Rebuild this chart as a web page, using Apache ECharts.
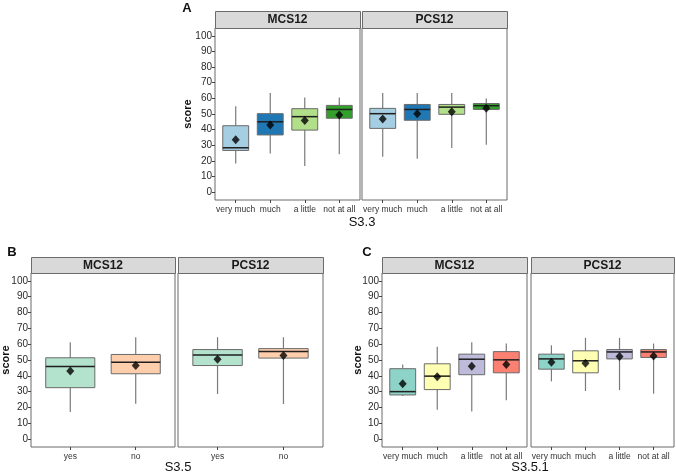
<!DOCTYPE html>
<html>
<head>
<meta charset="utf-8">
<script src="https://cdn.jsdelivr.net/npm/echarts@6/dist/echarts.min.js"></script>
<style>html,body{margin:0;padding:0;background:#fff}#c{width:676px;height:474px}</style>
</head>
<body>
<div id="c"></div>
<script>
// ---------- DATA ----------
const catsS33 = ['very much', 'much', 'a little', 'not at all'];
const catsS35 = ['yes', 'no'];
const catsS351 = ['very much', 'much', 'a little', 'not at all'];
const yTicks = [0, 10, 20, 30, 40, 50, 60, 70, 80, 90, 100];

// [lower whisker, Q1, median, Q3, upper whisker]
const A_MCS12_box = [[18.3, 26.7, 28.4, 42.5, 55.0], [24.8, 36.6, 45.0, 50.2, 63.4], [16.8, 39.7, 48.3, 53.4, 60.5], [24.2, 47.3, 52.9, 55.5, 60.5]];
const A_MCS12_mean = [33.6, 43.0, 45.8, 49.4];
const A_PCS12_box = [[22.7, 40.8, 50.2, 53.6, 63.4], [21.4, 46.0, 52.9, 56.1, 63.4], [28.2, 49.8, 54.4, 56.1, 63.4], [30.3, 52.9, 55.3, 56.7, 59.9]];
const A_PCS12_mean = [46.8, 50.2, 51.5, 53.6];

const B_MCS12_box = [[17.2, 32.5, 45.9, 51.4, 61.2], [22.4, 41.3, 48.6, 53.5, 64.4]];
const B_MCS12_mean = [43.0, 46.5];
const B_PCS12_box = [[28.5, 46.5, 53.2, 56.6, 64.4], [22.2, 51.2, 55.3, 57.2, 64.4]];
const B_PCS12_mean = [50.5, 52.8];

const C_MCS12_box = [[27.2, 27.9, 30.0, 44.5, 47.2], [18.5, 31.3, 39.8, 47.6, 58.3], [17.4, 40.7, 50.5, 53.7, 61.2], [24.5, 41.9, 50.1, 55.3, 60.4]];
const C_MCS12_mean = [35.0, 39.4, 46.1, 47.2];
const C_PCS12_box = [[36.5, 44.2, 50.7, 53.7, 59.3], [30.4, 41.9, 49.5, 55.8, 64.0], [31.0, 50.7, 55.1, 56.6, 64.0], [28.7, 51.6, 55.1, 56.6, 60.4]];
const C_PCS12_mean = [48.6, 48.0, 52.2, 52.6];

const palA = ['#A6CEE3', '#1F78B4', '#B2DF8A', '#33A02C'];
const palB = ['#B3E2CD', '#FDCDAC'];
const palC = ['#8DD3C7', '#FFFFB3', '#BEBADA', '#FB8072'];

// ---------- CHART ----------
const FONT = '"Liberation Sans", Arial, sans-serif';
const panels = [
  {pos: {left: 215, top: 28, width: 145, height: 172}, cats: catsS33, box: A_MCS12_box, mean: A_MCS12_mean, pal: palA, showY: true, strip: 'MCS12'},
  {pos: {left: 362, top: 28, width: 145, height: 172}, cats: catsS33, box: A_PCS12_box, mean: A_PCS12_mean, pal: palA, showY: false, strip: 'PCS12'},
  {pos: {left: 31, top: 273, width: 144, height: 174}, cats: catsS35, box: B_MCS12_box, mean: B_MCS12_mean, pal: palB, showY: true, strip: 'MCS12'},
  {pos: {left: 178, top: 273, width: 145, height: 174}, cats: catsS35, box: B_PCS12_box, mean: B_PCS12_mean, pal: palB, showY: false, strip: 'PCS12'},
  {pos: {left: 382, top: 273, width: 145, height: 174}, cats: catsS351, box: C_MCS12_box, mean: C_MCS12_mean, pal: palC, showY: true, strip: 'MCS12'},
  {pos: {left: 531, top: 273, width: 143, height: 174}, cats: catsS351, box: C_PCS12_box, mean: C_PCS12_mean, pal: palC, showY: false, strip: 'PCS12'}
];

const grid = [], xAxis = [], yAxis = [], series = [], graphic = [];

panels.forEach((p, i) => {
  const n = p.cats.length;
  grid.push(Object.assign({show: true, borderColor: '#6b6b6b', borderWidth: 1, backgroundColor: '#fff', containLabel: false}, p.pos));
  const xVals = p.cats.map((c, k) => k + 1);
  xAxis.push({
    type: 'value', gridIndex: i, min: 0.4, max: n + 0.6, position: 'bottom',
    axisLine: {show: false, onZero: false}, splitLine: {show: false},
    axisTick: {show: true, length: 3, customValues: xVals, lineStyle: {color: '#444'}},
    axisLabel: {show: true, customValues: xVals, margin: 5, fontSize: 8.5, color: '#333', fontFamily: FONT,
      formatter: v => p.cats[Math.round(v) - 1] || ''}
  });
  yAxis.push({
    type: 'value', gridIndex: i, min: -5, max: 105, position: 'left',
    axisLine: {show: false, onZero: false}, splitLine: {show: false},
    axisTick: {show: p.showY, length: 3, customValues: yTicks, lineStyle: {color: '#444'}},
    axisLabel: {show: p.showY, customValues: yTicks, margin: 3, fontSize: 10, color: '#2a2a2a', fontFamily: FONT}
  });
  const boxData = p.box.map((b, k) => [k + 1].concat(b));
  series.push({
    type: 'custom', xAxisIndex: i, yAxisIndex: i,
    encode: {x: 0, y: [1, 2, 3, 4, 5]},
    data: boxData,
    z: 2,
    renderItem: (params, api) => {
      const x = api.value(0);
      const pLo = api.coord([x, api.value(1)]);
      const pQ1 = api.coord([x, api.value(2)]);
      const pMed = api.coord([x, api.value(3)]);
      const pQ3 = api.coord([x, api.value(4)]);
      const pHi = api.coord([x, api.value(5)]);
      const hw = api.size([0.75, 0])[0] / 2;
      const fill = p.pal[params.dataIndex];
      return {type: 'group', children: [
        {type: 'line', shape: {x1: pLo[0], y1: pLo[1], x2: pQ1[0], y2: pQ1[1]}, style: {stroke: '#7a7a7a', lineWidth: 1.2}},
        {type: 'line', shape: {x1: pHi[0], y1: pHi[1], x2: pQ3[0], y2: pQ3[1]}, style: {stroke: '#7a7a7a', lineWidth: 1.2}},
        {type: 'rect', shape: {x: pQ3[0] - hw, y: pQ3[1], width: 2 * hw, height: pQ1[1] - pQ3[1]}, style: {fill: fill, stroke: '#6a6a6a', lineWidth: 1}},
        {type: 'line', shape: {x1: pMed[0] - hw, y1: pMed[1], x2: pMed[0] + hw, y2: pMed[1]}, style: {stroke: '#1f1f1f', lineWidth: 1.5}}
      ]};
    }
  });
  series.push({
    type: 'scatter', xAxisIndex: i, yAxisIndex: i, z: 5,
    symbol: 'diamond', symbolSize: [8, 9],
    itemStyle: {color: '#000'},
    data: p.mean.map((m, k) => [k + 1, m])
  });
  // facet strip
  const sh = i < 2 ? 17 : 16;
  graphic.push({type: 'rect', left: p.pos.left, top: p.pos.top - sh, shape: {width: p.pos.width, height: sh},
    style: {fill: '#D9D9D9', stroke: '#6b6b6b', lineWidth: 1}, z: 10});
  graphic.push({type: 'text', x: p.pos.left + p.pos.width / 2, y: p.pos.top - sh / 2 + 0.5,
    style: {text: p.strip, font: 'bold 12px ' + FONT, fill: '#1a1a1a', align: 'center', verticalAlign: 'middle'}, z: 11});
});

// panel letters, axis titles
const texts = [
  {t: 'A', x: 187, y: 8, font: 'bold 13px ' + FONT, align: 'center'},
  {t: 'B', x: 12, y: 252, font: 'bold 13px ' + FONT, align: 'center'},
  {t: 'C', x: 367, y: 252, font: 'bold 13px ' + FONT, align: 'center'},
  {t: 'S3.3', x: 362, y: 222, font: '13px ' + FONT, align: 'center'},
  {t: 'S3.5', x: 178, y: 467, font: '13px ' + FONT, align: 'center'},
  {t: 'S3.5.1', x: 530, y: 467, font: '13px ' + FONT, align: 'center'}
];
texts.forEach(o => graphic.push({type: 'text', x: o.x, y: o.y,
  style: {text: o.t, font: o.font, fill: '#111', align: o.align, verticalAlign: 'middle'}}));
[[188, 114], [6, 360], [358, 360]].forEach(([x, y]) => graphic.push({
  type: 'text', x: x, y: y, rotation: Math.PI / 2,
  style: {text: 'score', font: 'bold 11px ' + FONT, fill: '#111', align: 'center', verticalAlign: 'middle'}}));

const chart = echarts.init(document.getElementById('c'), null, {renderer: 'canvas'});
chart.setOption({animation: false, backgroundColor: '#fff', grid, xAxis, yAxis, series, graphic});
</script>
</body>
</html>
